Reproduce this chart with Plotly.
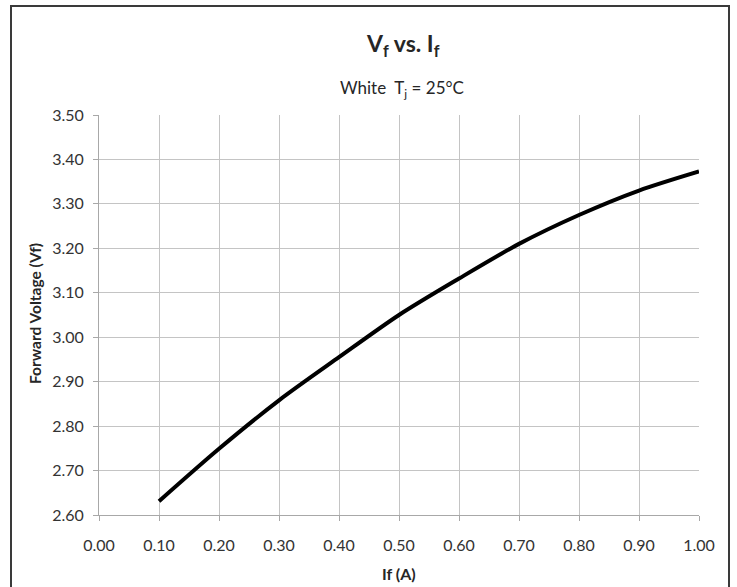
import plotly.graph_objects as go

current_a = [0.1, 0.2, 0.3, 0.4, 0.5, 0.6, 0.7, 0.8, 0.9, 1.0]
forward_v = [2.631, 2.749, 2.858, 2.955, 3.050, 3.132, 3.210, 3.275, 3.330, 3.373]

x_ticks = [0.0, 0.1, 0.2, 0.3, 0.4, 0.5, 0.6, 0.7, 0.8, 0.9, 1.0]
y_ticks = [2.6, 2.7, 2.8, 2.9, 3.0, 3.1, 3.2, 3.3, 3.4, 3.5]

FONT = "Lato, 'Open Sans', sans-serif"
GRID = "#c4c4c4"
TXT = "#262626"

fig = go.Figure()
fig.add_trace(go.Scatter(
    x=current_a, y=forward_v, mode="lines",
    line=dict(color="#000000", width=4, shape="spline", smoothing=0.8),
    showlegend=False, hoverinfo="skip",
))

W, H = 737, 587
L, R, T, B = 99, 38, 115, 72
pw, ph = W - L - R, H - T - B

def px(xp):
    return (xp - L) / pw

def py(yp):
    return (H - B - yp) / ph

axis_common = dict(
    tickformat=".2f",
    showgrid=True, gridcolor=GRID, gridwidth=1,
    showline=True, linecolor="#a8a8a8", linewidth=1,
    ticks="outside", ticklen=5, tickcolor="#a8a8a8",
    zeroline=False, tickfont=dict(size=16, color="#333333", family=FONT),
    fixedrange=True,
)

fig.update_layout(
    width=W, height=H,
    margin=dict(l=L, r=R, t=T, b=B, pad=0),
    paper_bgcolor="white", plot_bgcolor="white",
    font=dict(family=FONT, size=16, color=TXT),
    xaxis=dict(range=[0, 1.0], tickvals=x_ticks, ticklabelstandoff=11, **axis_common),
    yaxis=dict(range=[2.6, 3.5], tickvals=y_ticks, ticklabelstandoff=6, **axis_common),
    annotations=[
        dict(text="<b>V<sub>f</sub> vs. I<sub>f</sub></b>", x=px(403), y=py(45),
             xref="paper", yref="paper", showarrow=False,
             xanchor="center", yanchor="middle",
             font=dict(size=23, color=TXT, family=FONT)),
        dict(text="White  T<sub>j</sub> = 25°C", x=px(402), y=py(89),
             xref="paper", yref="paper", showarrow=False,
             xanchor="center", yanchor="middle",
             font=dict(size=17, color=TXT, family=FONT)),
        dict(text="<b>If (A)</b>", x=px(399), y=py(573),
             xref="paper", yref="paper", showarrow=False,
             xanchor="center", yanchor="middle",
             font=dict(size=16, color=TXT, family=FONT)),
        dict(text="<b>Forward Voltage (Vf)</b>", x=px(35), y=py(314),
             xref="paper", yref="paper", showarrow=False, textangle=-90,
             xanchor="center", yanchor="middle",
             font=dict(size=15.5, color=TXT, family=FONT)),
    ],
    shapes=[
        dict(type="rect", xref="paper", yref="paper",
             x0=px(11), x1=px(729), y0=py(595), y1=py(6),
             line=dict(color="#3a3a3a", width=2), fillcolor="rgba(0,0,0,0)",
             layer="above"),
    ],
)

fig.write_html("out.html", config={"displayModeBar": False},
               post_script="document.body.style.margin='0';")
